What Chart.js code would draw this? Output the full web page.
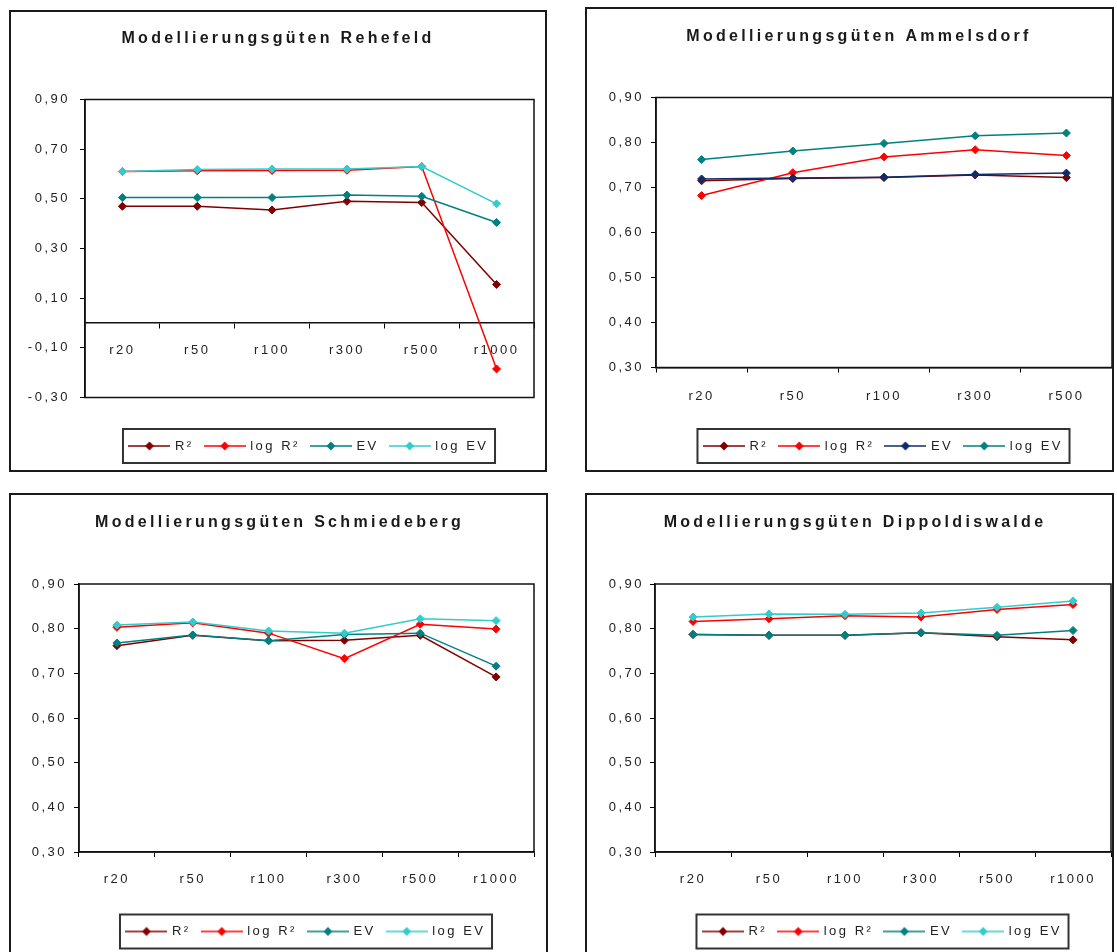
<!DOCTYPE html>
<html>
<head>
<meta charset="utf-8">
<script src="https://cdn.jsdelivr.net/npm/chart.js@4.4.1/dist/chart.umd.min.js"></script>
<style>
  body { margin: 0; width: 1117px; height: 952px; overflow: hidden; background: #fff; position: relative; }
  .panel { position: absolute; border: 2px solid #1a1a1a; box-sizing: border-box; background: #fff; overflow: hidden; }
  .panel canvas { display: block; }
</style>
</head>
<body>
<div class="panel" style="left:9px;top:10px;width:538px;height:462px"><canvas id="rehefeld" width="534" height="458"></canvas></div>
<div class="panel" style="left:585px;top:7px;width:529px;height:465px"><canvas id="ammelsdorf" width="530" height="461"></canvas></div>
<div class="panel" style="left:9px;top:493px;width:539px;height:470px"><canvas id="schmiedeberg" width="535" height="466"></canvas></div>
<div class="panel" style="left:585px;top:493px;width:529px;height:470px"><canvas id="dippoldiswalde" width="529" height="466"></canvas></div>
<script>
// categories
const radii6 = ['r20', 'r50', 'r100', 'r300', 'r500', 'r1000'];
const radii5 = ['r20', 'r50', 'r100', 'r300', 'r500'];
const seriesNames = ['R²', 'log R²', 'EV', 'log EV'];

// tick labels
const yTicksRehefeld = [-0.3, -0.1, 0.1, 0.3, 0.5, 0.7, 0.9];
const yTicksOther = [0.3, 0.4, 0.5, 0.6, 0.7, 0.8, 0.9];

// Rehefeld
const rehefeldR2 = [0.47, 0.47, 0.455, 0.49, 0.485, 0.155];
const rehefeldLogR2 = [0.61, 0.613, 0.614, 0.615, 0.63, -0.185];
const rehefeldEV = [0.505, 0.505, 0.505, 0.515, 0.51, 0.405];
const rehefeldLogEV = [0.61, 0.618, 0.62, 0.62, 0.63, 0.48];

// Ammelsdorf
const ammelsdorfR2 = [0.715, 0.72, 0.722, 0.728, 0.722];
const ammelsdorfLogR2 = [0.682, 0.733, 0.768, 0.784, 0.771];
const ammelsdorfEV = [0.719, 0.721, 0.723, 0.729, 0.732];
const ammelsdorfLogEV = [0.762, 0.781, 0.798, 0.815, 0.821];

// Schmiedeberg
const schmiedebergR2 = [0.762, 0.785, 0.773, 0.774, 0.785, 0.692];
const schmiedebergLogR2 = [0.803, 0.813, 0.79, 0.733, 0.81, 0.799];
const schmiedebergEV = [0.768, 0.786, 0.773, 0.787, 0.79, 0.716];
const schmiedebergLogEV = [0.808, 0.815, 0.795, 0.79, 0.822, 0.818];

// Dippoldiswalde
const dippoldiswaldeR2 = [0.787, 0.785, 0.785, 0.791, 0.782, 0.775];
const dippoldiswaldeLogR2 = [0.816, 0.822, 0.829, 0.826, 0.843, 0.854];
const dippoldiswaldeEV = [0.787, 0.785, 0.785, 0.791, 0.785, 0.796];
const dippoldiswaldeLogEV = [0.826, 0.833, 0.832, 0.835, 0.848, 0.862];

const colorsDefault = ['#800000', '#ff0000', '#008080', '#33cccc'];
const colorsAmmelsdorf = ['#800000', '#ff0000', '#102c66', '#008080'];

Chart.defaults.font.family = '"Liberation Sans", Arial, sans-serif';
Chart.defaults.font.size = 13;
Chart.defaults.color = '#222';

// stretched look of the original text
const textSpacing = {
  id: 'textSpacing',
  beforeLayout(chart) { chart.ctx.letterSpacing = '2.5px'; },
  beforeDraw(chart) {
    chart.ctx.letterSpacing = '2.5px';
    const t = chart.titleBlock;
    if (t && !t._spaced) {
      const orig = t.draw;
      t.draw = function () {
        chart.ctx.letterSpacing = '3.3px';
        orig.apply(this, arguments);
        chart.ctx.letterSpacing = '2.5px';
      };
      t._spaced = true;
    }
  }
};

// plot frame and legend box
const frame = {
  id: 'frame',
  beforeDatasetsDraw(chart) {
    const {ctx, chartArea: a} = chart;
    ctx.save();
    ctx.strokeStyle = '#111';
    ctx.lineWidth = 1.5;
    ctx.strokeRect(a.left, a.top, a.right - a.left, a.bottom - a.top);
    ctx.restore();
  },
  afterDraw(chart) {
    const boxes = chart.legend && chart.legend.legendHitBoxes;
    if (!boxes || !boxes.length) return;
    const first = boxes[0];
    const last = boxes[boxes.length - 1];
    const cy = first.top + first.height / 2;
    const ctx = chart.ctx;
    ctx.save();
    ctx.strokeStyle = '#333';
    ctx.lineWidth = 2;
    ctx.strokeRect(first.left - 7.5, cy - 17, last.left + last.width - first.left + 14, 34);
    ctx.restore();
  }
};

function legendIcon(color) {
  const c = document.createElement('canvas');
  c.width = 42;
  c.height = 12;
  const g = c.getContext('2d');
  g.strokeStyle = color;
  g.lineWidth = 1.5;
  g.beginPath();
  g.moveTo(0, 6);
  g.lineTo(42, 6);
  g.stroke();
  g.fillStyle = color;
  g.beginPath();
  g.moveTo(21, 1.5);
  g.lineTo(25.5, 6);
  g.lineTo(21, 10.5);
  g.lineTo(16.5, 6);
  g.closePath();
  g.fill();
  return c;
}

function makeChart(id, cfg) {
  const datasets = cfg.series.map((values, i) => ({
    label: seriesNames[i],
    data: values,
    borderColor: cfg.colors[i],
    backgroundColor: cfg.colors[i],
    borderWidth: 1.5,
    pointStyle: 'rectRot',
    pointRadius: 4,
    pointHoverRadius: 4,
    pointBorderWidth: 1,
    tension: 0,
    order: cfg.series.length - i
  }));

  const scales = {
    x: {
      type: 'category',
      offset: true,
      position: cfg.xAtZero ? {y: 0} : 'bottom',
      grid: {offset: true, drawOnChartArea: false, drawTicks: true, tickLength: 5, color: '#000'},
      border: {display: true, color: '#111', width: 1.5},
      ticks: {color: '#222', padding: cfg.xPad, maxRotation: 0, autoSkip: false, font: {size: 13}},
      afterFit: s => { s.height = cfg.xAxisHeight; }
    },
    y: {
      min: cfg.yTicks[0],
      max: cfg.yTicks[cfg.yTicks.length - 1],
      grid: {drawOnChartArea: false, drawTicks: true, tickLength: 5, color: '#000'},
      border: {display: true, color: '#111', width: 1.5},
      ticks: {
        color: '#222',
        padding: cfg.yPad,
        font: {size: 13},
        callback: v => v.toFixed(2).replace('.', ',')
      },
      afterBuildTicks: s => { s.ticks = cfg.yTicks.map(v => ({value: v})); },
      afterFit: s => { s.width = cfg.yAxisWidth; }
    }
  };
  if (cfg.xAtZero) {
    // the crossing axis takes no room, so keep the space below the plot with an empty axis
    scales.xSpace = {
      type: 'category',
      axis: 'x',
      position: 'bottom',
      grid: {display: false},
      border: {display: false},
      ticks: {display: false},
      afterFit: s => { s.height = cfg.xAxisHeight; }
    };
  }

  return new Chart(document.getElementById(id), {
    type: 'line',
    data: {labels: cfg.labels, datasets: datasets},
    plugins: [textSpacing, frame],
    options: {
      responsive: false,
      animation: false,
      devicePixelRatio: 1,
      events: [],
      layout: {padding: {left: cfg.padLeft, right: cfg.padRight, top: 0, bottom: cfg.padBottom}},
      plugins: {
        title: {
          display: true,
          text: cfg.title,
          color: '#1a1a1a',
          font: {size: 16, weight: 'bold'},
          padding: {top: cfg.titleTop, bottom: cfg.titleBottom}
        },
        legend: {
          position: 'bottom',
          fullSize: false,
          labels: {
            usePointStyle: true,
            pointStyleWidth: 38,
            padding: 12,
            color: '#222',
            font: {size: 13},
            generateLabels: chart => chart.data.datasets.map((ds, i) => ({
              text: ds.label,
              pointStyle: legendIcon(ds.borderColor),
              fillStyle: ds.borderColor,
              strokeStyle: ds.borderColor,
              lineWidth: 0,
              hidden: false,
              datasetIndex: i,
              fontColor: '#222'
            }))
          }
        },
        tooltip: {enabled: false}
      },
      scales: scales
    }
  });
}

makeChart('rehefeld', {
  title: 'Modellierungsgüten Rehefeld',
  labels: radii6,
  series: [rehefeldR2, rehefeldLogR2, rehefeldEV, rehefeldLogEV],
  colors: colorsDefault,
  yTicks: yTicksRehefeld,
  xAtZero: true,
  padLeft: 11, padRight: 11, padBottom: 7.5,
  yAxisWidth: 63, xAxisHeight: 30,
  titleTop: 17, titleBottom: 51.3,
  xPad: 15, yPad: 10
});

makeChart('ammelsdorf', {
  title: 'Modellierungsgüten Ammelsdorf',
  labels: radii5,
  series: [ammelsdorfR2, ammelsdorfLogR2, ammelsdorfEV, ammelsdorfLogEV],
  colors: colorsAmmelsdorf,
  yTicks: yTicksOther,
  xAtZero: false,
  padLeft: 14, padRight: 0, padBottom: 7.5,
  yAxisWidth: 55, xAxisHeight: 60,
  titleTop: 18, titleBottom: 51.3,
  xPad: 16, yPad: 7
});

makeChart('schmiedeberg', {
  title: 'Modellierungsgüten Schmiedeberg',
  labels: radii6,
  series: [schmiedebergR2, schmiedebergLogR2, schmiedebergEV, schmiedebergLogEV],
  colors: colorsDefault,
  yTicks: yTicksOther,
  xAtZero: false,
  padLeft: 14, padRight: 12, padBottom: 13,
  yAxisWidth: 54, xAxisHeight: 61,
  titleTop: 18.4, titleBottom: 51.4,
  xPad: 15, yPad: 7
});

makeChart('dippoldiswalde', {
  title: 'Modellierungsgüten Dippoldiswalde',
  labels: radii6,
  series: [dippoldiswaldeR2, dippoldiswaldeLogR2, dippoldiswaldeEV, dippoldiswaldeLogEV],
  colors: colorsDefault,
  yTicks: yTicksOther,
  xAtZero: false,
  padLeft: 7, padRight: 0, padBottom: 13,
  yAxisWidth: 61, xAxisHeight: 61,
  titleTop: 18.4, titleBottom: 51.4,
  xPad: 15, yPad: 6
});
</script>
</body>
</html>
